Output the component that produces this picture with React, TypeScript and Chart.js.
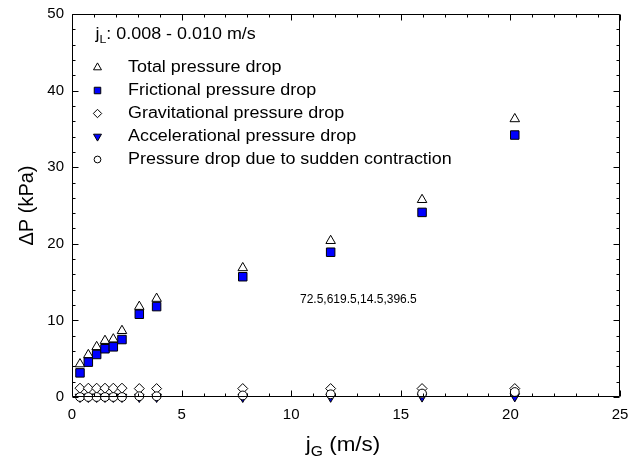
import React, { useEffect, useRef } from "react";
import { Chart, registerables } from "chart.js";
import { drawPoint } from "chart.js/helpers";

Chart.register(...registerables);

// ---- data ----
const jG = [0.365, 0.745, 1.125, 1.505, 1.885, 2.28, 3.07, 3.86, 7.79, 11.8, 15.97, 20.2];
const totalDP = [4.3, 5.5, 6.55, 7.35, 7.55, 8.65, 11.8, 12.85, 16.85, 20.4, 25.75, 36.3];
const frictionalDP = [3.15, 4.55, 5.55, 6.3, 6.55, 7.5, 10.8, 11.8, 15.7, 18.9, 24.1, 34.2];
const gravitationalDP = [1.15, 1.15, 1.15, 1.15, 1.15, 1.15, 1.1, 1.1, 1.1, 1.1, 1.1, 1.1];
const accelerationalDP = [0, 0, 0, 0, 0, 0, 0, 0, 0, 0.02, 0.05, 0.08];
const contractionDP = [0, 0, 0, 0, 0, 0, 0.1, 0.1, 0.2, 0.35, 0.45, 0.65];

const seriesLabels = [
  "Total pressure drop",
  "Frictional pressure drop",
  "Gravitational pressure drop",
  "Accelerational pressure drop",
  "Pressure drop due to sudden contraction",
];
const xTicks = [0, 5, 10, 15, 20, 25];
const yTicks = [0, 10, 20, 30, 40, 50];
const xMinorStep = 1;
const yMinorStep = 2;

const FONT = "'Liberation Sans', Arial, Helvetica, sans-serif";
const BLUE = "#0000ff";

const styles = [
  { pointStyle: "triangle", rotation: 0, radius: 5.5, bg: "#ffffff", lr: 4.6 },
  { pointStyle: "rect", rotation: 0, radius: 6, bg: BLUE, lr: 4.6 },
  { pointStyle: "rectRot", rotation: 0, radius: 5, bg: "#ffffff", lr: 4.2 },
  { pointStyle: "triangle", rotation: 180, radius: 5.5, bg: BLUE, lr: 4.6 },
  { pointStyle: "circle", rotation: 0, radius: 4.4, bg: "#ffffff", lr: 3.4 },
];

const SX = 1.12;

function stretchedText(ctx: CanvasRenderingContext2D, text: string, x: number, y: number) {
  ctx.save();
  ctx.translate(x, y);
  ctx.scale(SX, 1);
  ctx.fillText(text, 0, 0);
  ctx.restore();
  return ctx.measureText(text).width * SX;
}

const textPlugin = {
  id: "legendtext",
  afterDraw(chart: any) {
    const ctx: CanvasRenderingContext2D = chart.ctx;
    const a = chart.chartArea;
    let msg = "";
    try {
      const L = Math.round(a.left) + 0.5;
      const R = Math.round(a.right) - 0.5;
      const T = Math.round(a.top) + 0.5;
      const B = Math.round(a.bottom) - 0.5;
      msg = [L, R, T, B].join(",");
      ctx.save();
      ctx.strokeStyle = "#000000";
      ctx.lineWidth = 1;
      ctx.beginPath();
      ctx.moveTo(L, T);
      ctx.lineTo(R, T);
      ctx.lineTo(R, B);
      ctx.lineTo(L, B);
      ctx.closePath();
      const xmax = xTicks[xTicks.length - 1];
      for (let i = 0; i * xMinorStep <= xmax; i++) {
        const v = i * xMinorStep;
        const px = Math.round(chart.scales.x.getPixelForValue(v)) + 0.5;
        const len = xTicks.indexOf(v) >= 0 ? 6 : 3;
        ctx.moveTo(px, B);
        ctx.lineTo(px, B - len);
        ctx.moveTo(px, T);
        ctx.lineTo(px, T + len);
      }
      const ymax = yTicks[yTicks.length - 1];
      for (let i = 0; i * yMinorStep <= ymax; i++) {
        const v = i * yMinorStep;
        const py = Math.round(chart.scales.y.getPixelForValue(v)) + 0.5;
        const len = yTicks.indexOf(v) >= 0 ? 6 : 3;
        ctx.moveTo(L, py);
        ctx.lineTo(L + len, py);
        ctx.moveTo(R, py);
        ctx.lineTo(R - len, py);
      }
      ctx.stroke();
      ctx.restore();
    } catch (e: any) {
      msg += " ERR " + String(e && e.message);
    }

    ctx.save();
    ctx.fillStyle = "#000";
    ctx.textBaseline = "middle";
    ctx.textAlign = "left";
    ctx.font = `12px ${FONT}`;
    ctx.fillText(msg, 300, 300);
    ctx.font = `16px ${FONT}`;
    let x = 95.5;
    x += stretchedText(ctx, "j", x, 35);
    ctx.font = `11px ${FONT}`;
    x += stretchedText(ctx, "L", x, 40);
    ctx.font = `16px ${FONT}`;
    stretchedText(ctx, ": 0.008 - 0.010 m/s", x, 35);

    const rowY = [67.5, 90.5, 113.5, 136.5, 159.5];
    styles.forEach((s, i) => {
      ctx.fillStyle = s.bg;
      ctx.strokeStyle = "#000";
      ctx.lineWidth = 1;
      drawPoint(ctx, { pointStyle: s.pointStyle as any, rotation: s.rotation, radius: s.lr, borderWidth: 1 }, 97.5, rowY[i]);
      ctx.fillStyle = "#000";
      ctx.font = `16px ${FONT}`;
      stretchedText(ctx, seriesLabels[i], 128, rowY[i]);
    });

    ctx.font = `20px ${FONT}`;
    const wj = ctx.measureText("j").width * SX;
    ctx.font = `14px ${FONT}`;
    const wG = ctx.measureText("G").width * SX;
    ctx.font = `20px ${FONT}`;
    const wRest = ctx.measureText(" (m/s)").width * SX;
    const total = wj + wG + wRest;
    let tx = (a.left + a.right) / 2 - 3 - total / 2;
    ctx.textBaseline = "alphabetic";
    tx += stretchedText(ctx, "j", tx, 451);
    ctx.font = `14px ${FONT}`;
    tx += stretchedText(ctx, "G", tx, 456);
    ctx.font = `20px ${FONT}`;
    stretchedText(ctx, " (m/s)", tx, 451);

    ctx.save();
    ctx.translate(27.5, (a.top + a.bottom) / 2);
    ctx.rotate(-Math.PI / 2);
    ctx.textAlign = "center";
    ctx.textBaseline = "middle";
    ctx.font = `20px ${FONT}`;
    ctx.fillText("\u0394P (kPa)", 0, 0);
    ctx.restore();
    ctx.restore();
  },
};

export default function App() {
  const ref = useRef<HTMLCanvasElement | null>(null);
  useEffect(() => {
    if (!ref.current) return;
    const seriesValues = [totalDP, frictionalDP, gravitationalDP, accelerationalDP, contractionDP];
    const orders = [4, 3, 2, 1, 0];
    const datasets = seriesValues.map((vals, i) => ({
      label: seriesLabels[i],
      data: jG.map((xv, k) => ({ x: xv, y: vals[k] })),
      pointStyle: styles[i].pointStyle as any,
      rotation: styles[i].rotation,
      pointRadius: styles[i].radius,
      pointHoverRadius: styles[i].radius,
      pointBackgroundColor: styles[i].bg,
      pointBorderColor: "#000",
      pointBorderWidth: 1,
      showLine: false,
      clip: false as any,
      order: orders[i],
    }));
    const chart = new Chart(ref.current, {
      type: "scatter",
      data: { datasets },
      options: {
        animation: false,
        responsive: false,
        events: [],
        layout: { padding: { left: 0, right: 18, top: 14, bottom: 0 } },
        plugins: { legend: { display: false }, tooltip: { enabled: false } },
        scales: {
          x: {
            type: "linear",
            min: 0,
            max: 25,
            afterBuildTicks: (s: any) => {
              s.ticks = xTicks.map((v) => ({ value: v }));
            },
            ticks: { color: "#000", padding: 9, font: { family: FONT, size: 15 } },
            grid: { display: false, drawTicks: false },
            border: { display: false },
            afterFit: (s: any) => {
              s.height = 67;
              s.paddingLeft = 0;
              s.paddingRight = 0;
            },
          },
          y: {
            type: "linear",
            min: 0,
            max: 50,
            afterBuildTicks: (s: any) => {
              s.ticks = yTicks.map((v) => ({ value: v }));
            },
            ticks: { color: "#000", padding: 8, font: { family: FONT, size: 15 } },
            grid: { display: false, drawTicks: false },
            border: { display: false },
            afterFit: (s: any) => {
              s.width = 72;
              s.paddingTop = 0;
              s.paddingBottom = 0;
            },
          },
        },
      },
      plugins: [textPlugin],
    });
    return () => chart.destroy();
  }, []);
  return (
    <div style={{ position: "fixed", left: 0, top: 0, width: 638, height: 464, background: "#fff" }}>
      <canvas ref={ref} width={638} height={464} style={{ position: "absolute", left: 0, top: 0, width: 638, height: 464 }} />
    </div>
  );
}
